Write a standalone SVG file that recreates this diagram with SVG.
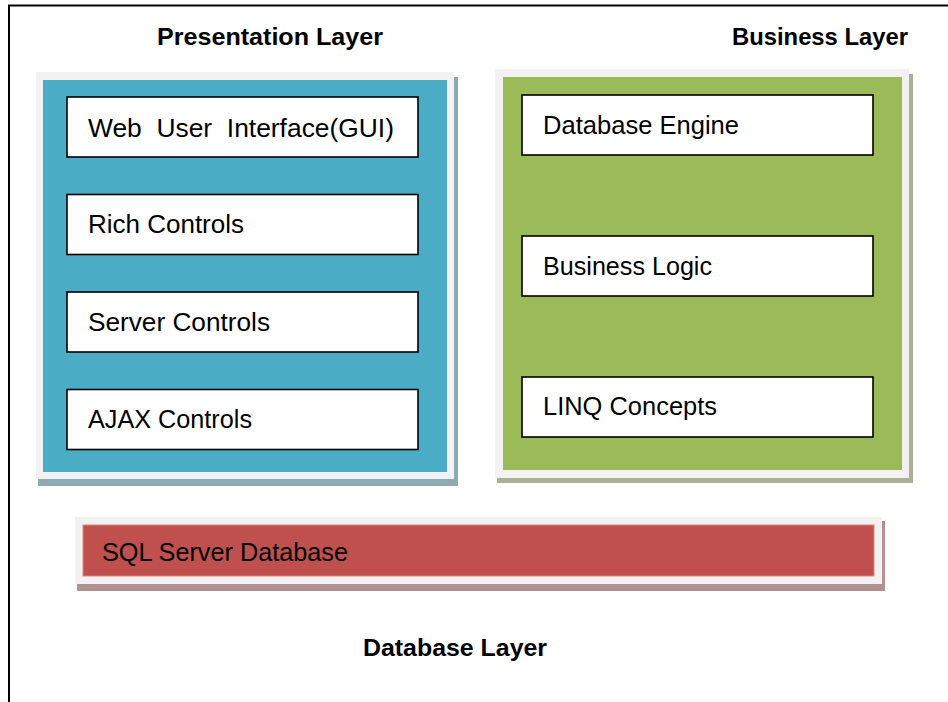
<svg xmlns="http://www.w3.org/2000/svg" width="948" height="702" viewBox="0 0 948 702">
  <style>
    .frame { fill: none; stroke: #000; stroke-width: 2; }
    .outer { fill: #f2f2f2; }
    .box { fill: #fff; stroke: #000; stroke-width: 1.6; }
    .lbl { font-family: "Liberation Sans", Arial, sans-serif; font-size: 25px; fill: #000; white-space: pre; }
    .title { font-family: "Liberation Sans", Arial, sans-serif; font-size: 24px; font-weight: bold; fill: #000; }
  </style>
  <rect width="948" height="702" fill="#fff"/>
  <path class="frame" d="M9,710 V5.5 H960"/>

  <text class="title" x="157" y="45" textLength="226" lengthAdjust="spacingAndGlyphs">Presentation Layer</text>
  <text class="title" x="732" y="45" textLength="176" lengthAdjust="spacingAndGlyphs">Business Layer</text>
  <text class="title" x="363" y="656" textLength="184" lengthAdjust="spacingAndGlyphs">Database Layer</text>

  <g id="presentation-layer">
    <rect x="38" y="77" width="420" height="409" fill="#8eabb3"/>
    <rect class="outer" x="36" y="72" width="418" height="407"/>
    <rect x="43" y="80" width="404" height="392" fill="#4bacc6"/>
  </g>
  <g id="web-ui">
    <rect class="box" x="67" y="97" width="351" height="60"/>
    <text class="lbl" x="88" y="137" textLength="306" lengthAdjust="spacingAndGlyphs" xml:space="preserve">Web  User  Interface(GUI)</text>
  </g>
  <g id="rich-controls">
    <rect class="box" x="67" y="194.5" width="351" height="60"/>
    <text class="lbl" x="88" y="233" textLength="156" lengthAdjust="spacingAndGlyphs">Rich Controls</text>
  </g>
  <g id="server-controls">
    <rect class="box" x="67" y="292" width="351" height="60"/>
    <text class="lbl" x="88" y="331" textLength="182" lengthAdjust="spacingAndGlyphs">Server Controls</text>
  </g>
  <g id="ajax-controls">
    <rect class="box" x="67" y="389.5" width="351" height="60"/>
    <text class="lbl" x="88" y="428" textLength="164" lengthAdjust="spacingAndGlyphs">AJAX Controls</text>
  </g>

  <g id="business-layer">
    <rect x="497" y="74" width="416" height="409" fill="#a8b096"/>
    <rect class="outer" x="495" y="69" width="414" height="409"/>
    <rect x="503" y="77" width="399" height="393" fill="#9bbb59"/>
  </g>
  <g id="database-engine">
    <rect class="box" x="522" y="95" width="351" height="60"/>
    <text class="lbl" x="543" y="134" textLength="196" lengthAdjust="spacingAndGlyphs">Database Engine</text>
  </g>
  <g id="business-logic">
    <rect class="box" x="522" y="236" width="351" height="60"/>
    <text class="lbl" x="543" y="275" textLength="169" lengthAdjust="spacingAndGlyphs">Business Logic</text>
  </g>
  <g id="linq-concepts">
    <rect class="box" x="522" y="377" width="351" height="60"/>
    <text class="lbl" x="543" y="415" textLength="174" lengthAdjust="spacingAndGlyphs">LINQ Concepts</text>
  </g>

  <g id="sql-server-database">
    <rect x="77" y="521" width="808" height="70" fill="#b39190"/>
    <rect class="outer" x="75" y="517" width="807" height="67"/>
    <rect x="83" y="525" width="791" height="51" fill="#c0504d" stroke="#d98580" stroke-width="1"/>
    <text class="lbl" x="102" y="561" textLength="246" lengthAdjust="spacingAndGlyphs">SQL Server Database</text>
  </g>

  <g id="connectors"></g>
</svg>
